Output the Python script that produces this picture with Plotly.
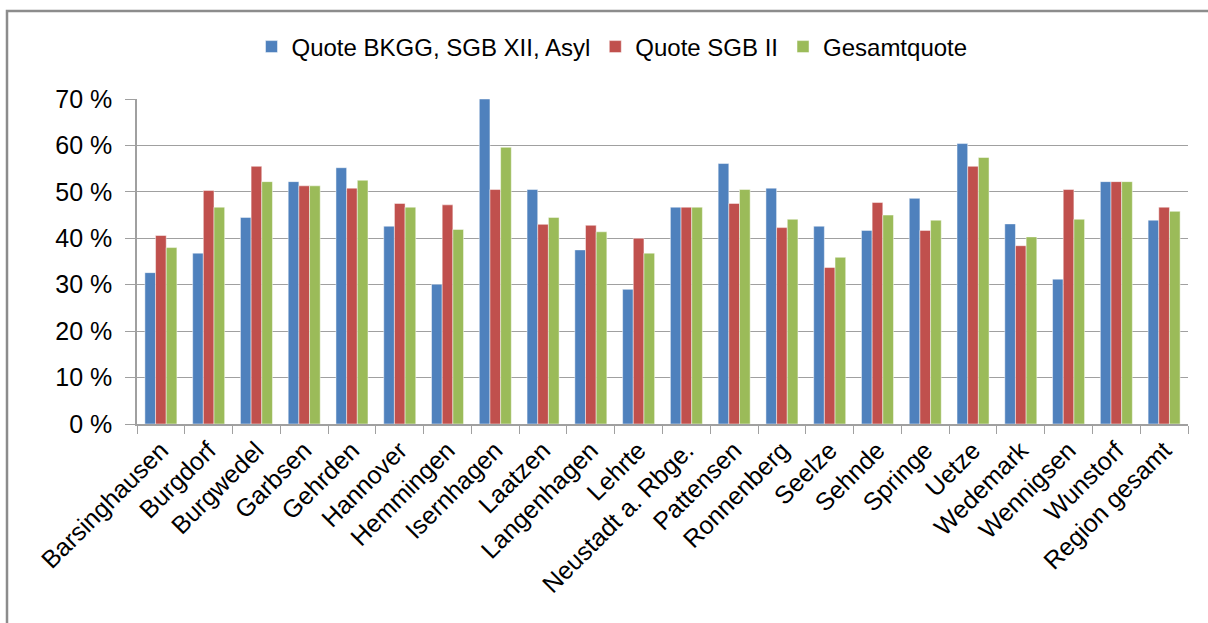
import plotly.graph_objects as go

categories = ["Barsinghausen", "Burgdorf", "Burgwedel", "Garbsen", "Gehrden", "Hannover",
              "Hemmingen", "Isernhagen", "Laatzen", "Langenhagen", "Lehrte", "Neustadt a. Rbge.",
              "Pattensen", "Ronnenberg", "Seelze", "Sehnde", "Springe", "Uetze", "Wedemark",
              "Wennigsen", "Wunstorf", "Region gesamt"]
quote_bkgg = [32.6, 36.8, 44.5, 52.2, 55.2, 42.6, 30.1, 70.0, 50.5, 37.5, 29.0, 46.7,
              56.1, 50.8, 42.6, 41.7, 48.6, 60.4, 43.1, 31.2, 52.2, 43.9]
quote_sgb2 = [40.6, 50.3, 55.5, 51.3, 50.8, 47.5, 47.2, 50.5, 43.0, 42.8, 40.0, 46.7,
              47.5, 42.3, 33.7, 47.7, 41.7, 55.5, 38.4, 50.5, 52.2, 46.7]
gesamt = [38.0, 46.7, 52.2, 51.3, 52.5, 46.7, 41.9, 59.6, 44.5, 41.4, 36.8, 46.7,
          50.5, 44.1, 35.9, 45.0, 43.9, 57.4, 40.3, 44.1, 52.2, 45.8]
series_names = ["Quote BKGG, SGB XII, Asyl", "Quote SGB II", "Gesamtquote"]
colors = ["#4F81BD", "#C0504D", "#9BBB59"]

fig = go.Figure()
for name, vals, col in zip(series_names, [quote_bkgg, quote_sgb2, gesamt], colors):
    fig.add_trace(go.Bar(x=categories, y=vals, name=name, marker_color=col,
                         marker_line=dict(color="rgba(255,255,255,0.6)", width=0.8)))

W, H = 1208, 623
L, R, T, B = 137, 1188, 99, 424
pw, ph = R - L, B - T

def px(x):
    return (x - L) / pw

def py(y):
    return (B - y) / ph

fig.update_layout(
    width=W, height=H,
    margin=dict(l=L, r=W - R, t=T, b=H - B, pad=0),
    paper_bgcolor="white", plot_bgcolor="white",
    barmode="group", bargap=0.33, bargroupgap=0,
    font=dict(family="Liberation Sans, Arial, sans-serif", size=24, color="black"),
    legend=dict(orientation="h", x=px(612), y=py(47), xanchor="center", yanchor="middle",
                font=dict(size=24), itemwidth=30, tracegroupgap=0, bgcolor="rgba(0,0,0,0)"),
    xaxis=dict(showline=True, linecolor="#A0A0A0", linewidth=1.5, ticks="outside",
               tickson="boundaries", ticklen=8, tickcolor="#A0A0A0", tickangle=-45,
               tickfont=dict(size=25), showgrid=False, automargin=False),
    yaxis=dict(range=[0, 70], dtick=10, ticksuffix=" %", showline=True, linecolor="#A0A0A0",
               linewidth=1.5, ticks="outside", ticklen=10, tickcolor="#A0A0A0",
               gridcolor="#A0A0A0", gridwidth=1.2, tickfont=dict(size=25), zeroline=False,
               ticklabelstandoff=8, automargin=False),
    shapes=[dict(type="rect", xref="paper", yref="paper",
                 x0=px(7), x1=px(1215), y0=py(650), y1=py(11),
                 line=dict(color="#8C8C8C", width=2.5), fillcolor="rgba(0,0,0,0)", layer="below")],
)

fig.write_html("out.html", config={"displayModeBar": False},
               post_script="document.body.style.margin='0px';")
